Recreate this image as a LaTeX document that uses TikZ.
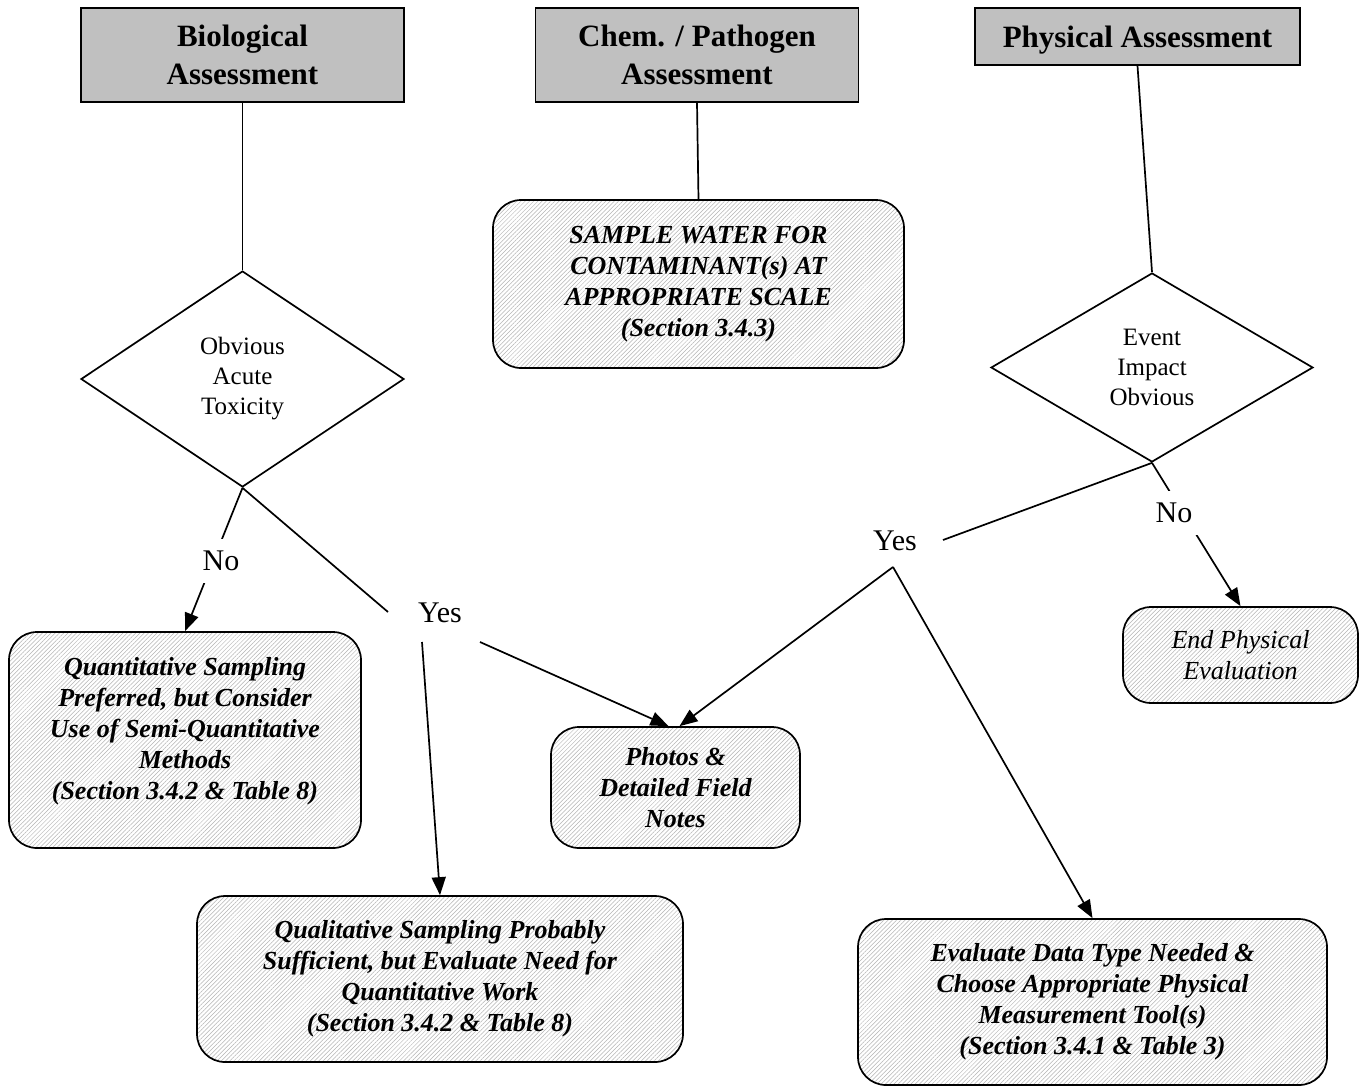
\documentclass[tikz,border=0pt]{standalone}
\usepackage{fontspec}
\setmainfont{Liberation Serif}
\usetikzlibrary{shapes.geometric,arrows.meta,patterns.meta}
\definecolor{hdrgray}{HTML}{C0C0C0}
\definecolor{hatch}{HTML}{B4B4B4}
\begin{document}
\begin{tikzpicture}[x=1pt,y=-1pt,
  hdr/.style={draw, line width=1.7pt, fill=hdrgray, minimum width=323pt, align=center,
    font=\fontsize{31}{38}\selectfont\bfseries, inner sep=0pt},
  dec/.style={draw, diamond, line width=1.7pt, inner sep=0pt, align=center,
    font=\fontsize{25}{30}\selectfont},
  rbox/.style={draw, line width=1.7pt, rounded corners=28pt,
    pattern={Lines[angle=45,distance=3pt,line width=0.5pt]}, pattern color=hatch,
    align=center, inner sep=0pt, font=\fontsize{26}{31}\selectfont\bfseries\itshape},
  lbl/.style={fill=white, inner sep=12pt, font=\fontsize{30}{36}\selectfont},
  conn/.style={line width=1.7pt},
  arr/.style={conn, -{Triangle[length=18pt,width=14pt]}}
]
\fill[white] (0,0) rectangle (1362,1087);
\useasboundingbox (0,0) rectangle (1362,1087);

% headers
\node[hdr, minimum height=94pt] (bh) at (242.5,55) {Biological\\Assessment};
\node[hdr, minimum height=94pt] (ch) at (697,55) {Chem. / Pathogen\\Assessment};
\node[hdr, minimum height=57pt, minimum width=325pt, text depth=0pt] (ph) at (1137.5,36.5) {Physical Assessment};

% decisions
\node[dec, minimum width=323pt, minimum height=216pt] (bd) at (242.5,379) {Obvious\\Acute\\Toxicity};
\node[dec, minimum width=322pt, minimum height=189pt] (pd) at (1152,367.5) {Event\\Impact\\Obvious};

% boxes
\node[rbox, minimum width=411pt, minimum height=168pt] (sw) at (698.5,284)
  {SAMPLE WATER FOR\\CONTAMINANT(s) AT\\APPROPRIATE SCALE\\(Section 3.4.3)};
\node[rbox, minimum width=352pt, minimum height=216pt, text depth=23pt] (qs) at (185,740)
  {Quantitative Sampling\\Preferred, but Consider\\Use of Semi-Quantitative\\Methods\\(Section 3.4.2 \& Table 8)};
\node[rbox, minimum width=249pt, minimum height=121pt] (pn) at (675.5,787.5)
  {Photos \&\\Detailed Field\\Notes};
\node[rbox, minimum width=486pt, minimum height=166pt] (ql) at (440,979)
  {Qualitative Sampling Probably\\Sufficient, but Evaluate Need for\\Quantitative Work\\(Section 3.4.2 \& Table 8)};
\node[rbox, minimum width=235pt, minimum height=96pt, font=\fontsize{26}{31}\selectfont\itshape] (ep) at (1240.5,655)
  {End Physical\\Evaluation};
\node[rbox, minimum width=469pt, minimum height=166pt] (ev) at (1092.5,1002)
  {Evaluate Data Type Needed \&\\Choose Appropriate Physical\\Measurement Tool(s)\\(Section 3.4.1 \& Table 3)};

% header links
\draw[conn] (bh.south) -- (bd.north);
\draw[conn] (ch.south) -- (sw.north);
\draw[conn] (ph.south) -- (pd.north);

% biological branches
\draw[arr] (bd.south) -- (qs.north);
\node[lbl] (noB) at (221,561) {No};
\coordinate (yb1) at (388,612);
\draw[conn] (bd.south) -- (yb1);
\node[font=\fontsize{30}{36}\selectfont, inner sep=0pt] (yesB) at (440,613) {Yes};
\coordinate (yb2) at (422,642);
\coordinate (yb3) at (480,642);
\draw[arr] (yb2) -- (ql.north);
\draw[arr] (yb3) -- ([xshift=-7pt]pn.north);

% physical branches
\draw[arr] (pd.south) -- (ep.north);
\node[lbl] (noP) at (1174,513) {No};
\coordinate (py1) at (943,540);
\draw[conn] (pd.south) -- (py1);
\node[font=\fontsize{30}{36}\selectfont, inner sep=0pt] (yesP) at (895,541) {Yes};
\coordinate (py2) at (893,567);
\draw[arr] (py2) -- ([xshift=4pt]pn.north);
\draw[arr] (py2) -- (ev.north);
\end{tikzpicture}
\end{document}
